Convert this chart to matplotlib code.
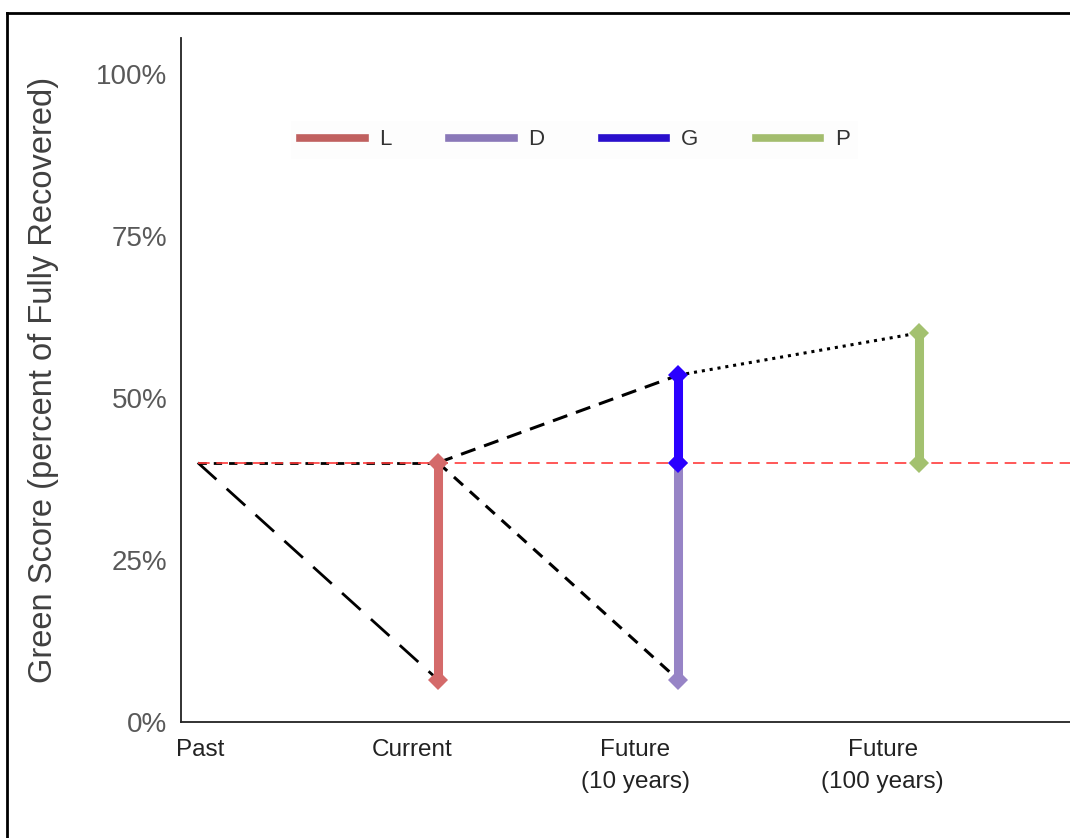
import matplotlib
matplotlib.use("Agg")
import matplotlib.pyplot as plt
from matplotlib.lines import Line2D

plt.rcParams['font.family'] = ['Liberation Sans', 'DejaVu Sans']

# ---------------- data ----------------
categories = ['Past', 'Current', 'Future\n(10 years)', 'Future\n(100 years)']
cat_x = [0, 1, 2, 3]
baseline = 40.0          # Past / reference green score (%)
current_low = 6.5        # Current score after loss (%)
future10_high = 53.5     # Future (10 years) with gains (%)
future100_high = 60.0    # Future (100 years) (%)

series_names = ['L', 'D', 'G', 'P']
series_colors = ['#d46a6a', '#9784c6', '#2a00ff', '#a3c16f']
legend_colors = ['#c0605f', '#8a78b8', '#2a0fcc', '#a3bd6e']
series_x = [1, 2, 2, 3]
series_low = [current_low, current_low, baseline, baseline]
series_high = [baseline, baseline, future10_high, future100_high]

yticks = [0, 25, 50, 75, 100]
ytick_labels = ['0%', '25%', '50%', '75%', '100%']
tick_label_x = [0.01, 0.89, 1.82, 2.85]

# ---------------- figure ----------------
fig = plt.figure(figsize=(10.70, 8.38), dpi=100)
ax = fig.add_axes([181 / 1070, (838 - 722) / 838, 1 - 181 / 1070, (722 - 38) / 838])
ax.set_xlim(-0.07, 3.63)
ax.set_ylim(0, 105.5)

# reference line
ax.plot([cat_x[0], 3.63], [baseline, baseline], color='#ff3b3b', lw=1.2,
        dashes=(7, 4), zorder=2)

# projection paths
ax.plot([cat_x[0], cat_x[1]], [baseline, baseline], color='black', lw=2.0,
        dashes=(3, 2.5), zorder=1.5)
ax.plot([cat_x[0], cat_x[1]], [baseline, current_low], color='black', lw=2.0,
        dashes=(9, 5), zorder=1.5)
ax.plot([cat_x[1], cat_x[2]], [baseline, future10_high], color='black', lw=2.2,
        dashes=(5, 3), zorder=1.5)
ax.plot([cat_x[1], cat_x[2]], [baseline, current_low], color='black', lw=2.2,
        dashes=(4, 3), zorder=1.5)
ax.plot([cat_x[2], cat_x[3]], [future10_high, future100_high], color='black',
        lw=2.2, dashes=(1, 1.6), zorder=1.5)

# ranges
for i, (name, c) in enumerate(zip(series_names, series_colors)):
    ax.plot([series_x[i], series_x[i]], [series_low[i], series_high[i]],
            color=c, lw=6.5, marker='D', markersize=10.5, markeredgewidth=0,
            zorder=3 + i)

# axes styling
for s in ['top', 'right']:
    ax.spines[s].set_visible(False)
ax.spines['left'].set_linewidth(1.3)
ax.spines['bottom'].set_linewidth(1.3)
ax.spines['bottom'].set_color('#222222')
ax.spines['left'].set_color('#222222')

ax.set_yticks(yticks)
ax.set_yticklabels(ytick_labels, fontsize=20, color='#595959')
ax.tick_params(axis='y', length=0, pad=10)
ax.set_xticks(tick_label_x)
ax.set_xticklabels(categories, fontsize=17.5, color='#222222', linespacing=1.6)
ax.tick_params(axis='x', length=0, pad=12)

ax.set_ylabel('Green Score (percent of Fully Recovered)', fontsize=23.5,
              color='#404040')
ax.yaxis.set_label_coords(-0.137, 0.5)

# legend
handles = [Line2D([0], [0], color=c, lw=5.5) for c in legend_colors]
leg = ax.legend(handles, series_names, loc='center', ncol=4,
                bbox_to_anchor=(0.443, 0.851), fontsize=16,
                handlelength=2.9, handletextpad=0.65, columnspacing=2.6,
                frameon=True, facecolor='#fdfdfd', edgecolor='none',
                fancybox=False, framealpha=1)
for t in leg.get_texts():
    t.set_color('#333333')

# outer frame (left and top borders)
fig.add_artist(Line2D([7 / 1070, 7 / 1070], [0, 1 - 13 / 838], color='black',
                      lw=2.0, transform=fig.transFigure))
fig.add_artist(Line2D([7 / 1070, 1], [1 - 13 / 838, 1 - 13 / 838], color='black',
                      lw=2.0, transform=fig.transFigure))

fig.savefig('out.png', dpi=100)
